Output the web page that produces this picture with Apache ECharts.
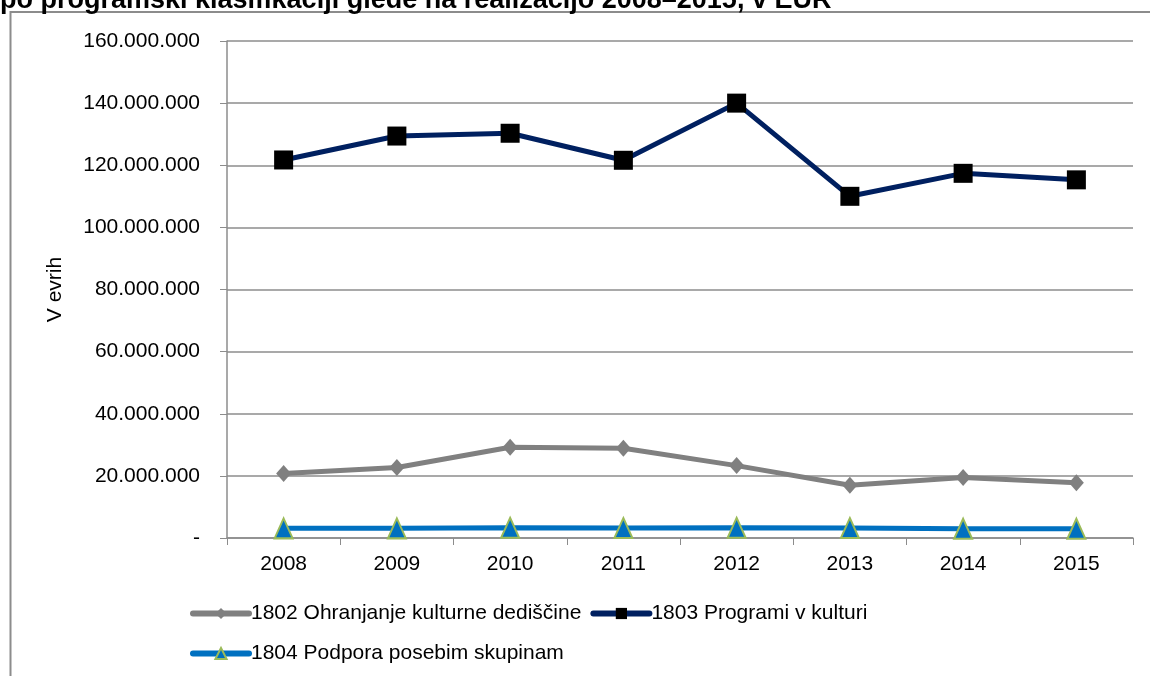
<!DOCTYPE html>
<html>
<head>
<meta charset="utf-8">
<script src="https://cdn.jsdelivr.net/npm/echarts@6/dist/echarts.min.js"></script>
<style>
  html, body { margin: 0; padding: 0; background: #fff; }
  #chart { width: 1150px; height: 676px; }
</style>
</head>
<body>
<div id="chart"></div>
<script>
// years on the x axis
const years = ['2008', '2009', '2010', '2011', '2012', '2013', '2014', '2015']
// values in EUR
const dediscina = [20800000, 22700000, 29200000, 28900000, 23300000, 17000000, 19500000, 17800000]
const programi = [121700000, 129400000, 130300000, 121600000, 140000000, 110000000, 117400000, 115300000]
const skupine = [3100000, 3100000, 3300000, 3200000, 3300000, 3200000, 3000000, 3000000]

const names = ['1802 Ohranjanje kulturne dediščine', '1803 Programi v kulturi', '1804 Podpora posebim skupinam']

const fmt = v => v === 0 ? '-' : v.toString().replace(/\B(?=(\d{3})+(?!\d))/g, '.')

let myChart = echarts.init(document.getElementById('chart'))
let legendBase = {
  left: 185,
  itemWidth: 56, itemHeight: 14, itemGap: 9,
  lineStyle: { width: 6, cap: 'round' },
  textStyle: { fontSize: 21, color: '#000', padding: [0, 0, 0, -3] }
}
let option = {
  animation: false,
  textStyle: { fontFamily: 'Liberation Sans, Arial, sans-serif' },
  title: {
    text: 'po programski klasifikaciji glede na realizacijo 2008–2015, v EUR',
    left: -5,
    top: -18,
    textStyle: { fontSize: 27, fontWeight: 'bold', color: '#000' }
  },
  graphic: [{
    type: 'rect',
    shape: { x: 10.5, y: 12, width: 1150, height: 700 },
    style: { fill: 'none', stroke: '#8c8c8c', lineWidth: 2 },
    silent: true
  }],
  legend: [
    Object.assign({}, legendBase, { data: [names[0], names[1]], top: 598 }),
    Object.assign({}, legendBase, { data: [names[2]], top: 638 })
  ],
  grid: { left: 227, right: 17, top: 41, bottom: 138 },
  xAxis: {
    type: 'category',
    data: years,
    boundaryGap: true,
    axisLine: { lineStyle: { color: '#8c8c8c', width: 1.5 } },
    axisTick: { show: true, length: 7, lineStyle: { color: '#8c8c8c' } },
    axisLabel: { fontSize: 21, color: '#000', margin: 16 }
  },
  yAxis: {
    type: 'value',
    min: 0, max: 160000000, interval: 20000000,
    name: 'V evrih',
    nameLocation: 'middle',
    nameGap: 161,
    nameRotate: 90,
    nameTextStyle: { fontSize: 21, color: '#000' },
    axisLine: { show: true, lineStyle: { color: '#8c8c8c', width: 1.5 } },
    axisTick: { show: true, length: 7, lineStyle: { color: '#8c8c8c' } },
    axisLabel: { fontSize: 21, color: '#000', margin: 27, formatter: fmt },
    splitLine: { lineStyle: { color: '#8c8c8c', width: 1.5 } }
  },
  series: [
    {
      name: names[0],
      type: 'line',
      data: dediscina,
      symbol: 'diamond',
      symbolSize: [15, 17],
      lineStyle: { color: '#808080', width: 5 },
      itemStyle: { color: '#808080' }
    },
    {
      name: names[1],
      type: 'line',
      data: programi,
      symbol: 'rect',
      symbolSize: 19,
      lineStyle: { color: '#002060', width: 5 },
      itemStyle: { color: '#000' }
    },
    {
      name: names[2],
      type: 'line',
      data: skupine,
      symbol: 'triangle',
      symbolSize: [18, 20],
      lineStyle: { color: '#0070c0', width: 5 },
      itemStyle: { color: '#0070c0', borderColor: '#9bbb59', borderWidth: 2 }
    }
  ]
}
myChart.setOption(option)
</script>
</body>
</html>
